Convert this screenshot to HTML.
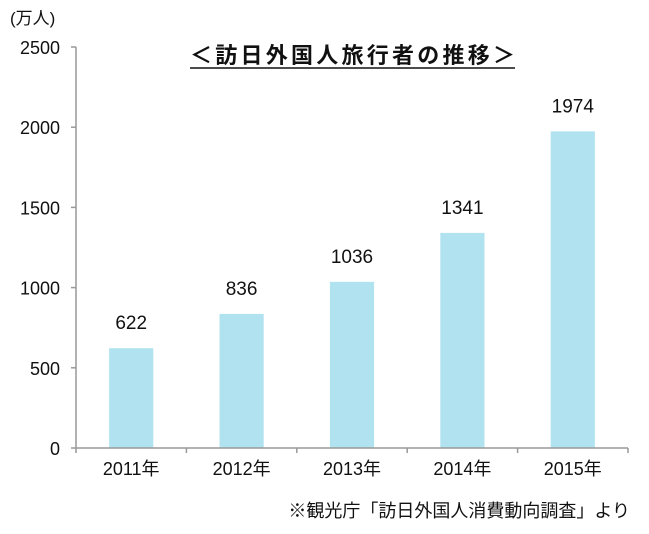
<!DOCTYPE html>
<html><head><meta charset="utf-8">
<style>
html,body{margin:0;padding:0;background:#fff;}
svg{display:block;font-family:"Liberation Sans","Noto Sans CJK JP",sans-serif;}
</style></head>
<body>
<svg id="chart" width="649" height="534" viewBox="0 0 649 534">
<text x="10" y="24" font-size="17" fill="#111">(万人)</text>
<text x="190" y="63" font-size="22" font-weight="bold" textLength="325" lengthAdjust="spacing" fill="#111">＜訪日外国人旅行者の推移＞</text>
<line x1="190" y1="68" x2="515" y2="68" stroke="#111" stroke-width="1.5"/>
<g id="yaxis"></g>
<g id="bars"></g>
<g id="xaxis"></g>
<text x="630" y="517" font-size="18" text-anchor="end" fill="#111">※観光庁「訪日外国人消費動向調査」より</text>
</svg>
<script>
const categories = ["2011年","2012年","2013年","2014年","2015年"];
const values = [622, 836, 1036, 1341, 1974];
const yTicks = [0, 500, 1000, 1500, 2000, 2500];
const NS = "http://www.w3.org/2000/svg";
const left = 76, right = 628, y0 = 448, yTop = 47, yMax = 2500;
const bw = (right - left) / categories.length;
function y(v){ return y0 - (v / yMax) * (y0 - yTop); }
function x(i){ return left + bw * i; }
function mk(tag, attrs, parent){ const e = document.createElementNS(NS, tag); for (const k in attrs) e.setAttribute(k, attrs[k]); parent.appendChild(e); return e; }
const ya = document.getElementById("yaxis"), ba = document.getElementById("bars"), xa = document.getElementById("xaxis");
const axisLine = mk("line", {x1:left, y1:yTop, x2:left, y2:y0, stroke:"#999", "stroke-width":1.5}, ya);


yTicks.forEach(t => {
  const tk = mk("line", {x1:left-5, y1:y(t), x2:left, y2:y(t), stroke:"#999", "stroke-width":1.5}, ya);
  
  
  const lb = mk("text", {x:left-16, y:y(t)+7, "font-size":18, "text-anchor":"end", fill:"#111"}, ya);
  lb.textContent = t;
  
  
});
const xl = mk("line", {x1:left, y1:y0, x2:right, y2:y0, stroke:"#999", "stroke-width":1.5}, xa);


for (let i = 0; i <= categories.length; i++) {
  const tk = mk("line", {x1:x(i), y1:y0, x2:x(i), y2:y0+5, stroke:"#999", "stroke-width":1.5}, xa);
  
  
}
categories.forEach((c, i) => {
  const cx = x(i) + bw/2, w = bw * 0.4;
  const r = mk("rect", {x:cx - w/2, y:y(values[i]), width:w, height:y0 - y(values[i]), fill:"#b0e2ef"}, ba);
  
  
  const v = mk("text", {x:cx, y:y(values[i]) - 19, "font-size":19, "text-anchor":"middle", fill:"#111"}, ba);
  v.textContent = values[i];
  
  
  const l = mk("text", {x:cx, y:y0 + 27, "font-size":18, "text-anchor":"middle", fill:"#111"}, xa);
  l.textContent = c;
  
  
});
</script>
</body></html>
